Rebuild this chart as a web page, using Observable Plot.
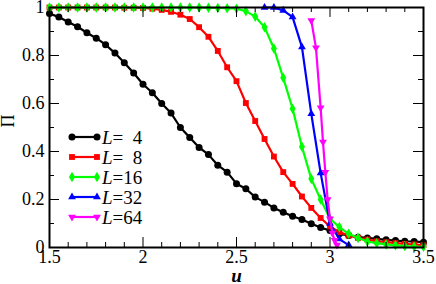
<!DOCTYPE html>
<html><head><meta charset="utf-8">
<script src="https://cdn.jsdelivr.net/npm/d3@7"></script>
<script src="https://cdn.jsdelivr.net/npm/@observablehq/plot@0.6"></script>
<style>
html,body{margin:0;padding:0;background:#fff;}
#wrap{position:relative;width:436px;height:284px;}
#legend{position:absolute;left:0;top:0;}
</style></head><body><div id="wrap"></div>
<script>
// ---- data ----
const uGrid = [1.5,1.55,1.6,1.65,1.7,1.75,1.8,1.85,1.9,1.95,2.0,2.05,2.1,2.15,2.2,2.25,2.3,2.35,2.4,2.45,2.5,2.55,2.6,2.65,2.7,2.75,2.8,2.85,2.9,2.95,3.0,3.05,3.1,3.15,3.2,3.25,3.3,3.35,3.4,3.45,3.5];
const p4  = [0.975,0.96,0.94,0.92,0.895,0.872,0.845,0.81,0.77,0.727,0.68,0.645,0.6,0.56,0.5,0.458,0.417,0.387,0.343,0.314,0.266,0.245,0.21,0.189,0.165,0.147,0.13,0.117,0.099,0.083,0.071,0.057,0.05,0.043,0.04,0.036,0.032,0.029,0.026,0.025,0.022];
const p8  = [1,1,1,1,1,1,1,1,0.999,0.999,0.998,0.995,0.99,0.982,0.97,0.952,0.918,0.878,0.819,0.751,0.693,0.602,0.527,0.452,0.379,0.314,0.265,0.2125,0.165,0.123,0.0875,0.064,0.05,0.04,0.033,0.026,0.022,0.018,0.015,0.0125,0.01];
const p16 = [1,1,1,1,1,1,1,1,1,1,1,1,1,1,1,1,1,0.999,0.998,0.997,0.995,0.985,0.962,0.918,0.829,0.707,0.578,0.42,0.286,0.2,0.12,0.085,0.057,0.04,0.025,0.018,0.013,0.009,0.006,0.004,0.003];
const u32 = [2.65,2.7,2.75,2.8,2.85,2.9,2.95,3.0,3.05,3.1];
const p32 = [1,1,0.988,0.96,0.835,0.557,0.31,0.1,0.035,0.01];
const u64 = [2.9,2.925,2.95,2.9625,2.975,2.9875,3.0,3.0125,3.025,3.0375];
const p64 = [0.946,0.832,0.582,0.44,0.314,0.2,0.12,0.06,0.03,0.01];

const sizes  = ["4","8","16","32","64"];
const labels = ["\u20074","\u20078","16","32","64"];
const colors = ["#000000","#ff0000","#00ff00","#0000ff","#ff00ff"];

const xMajor = [1.5,2,2.5,3,3.5];
const xMinor = [1.6,1.7,1.8,1.9,2.1,2.2,2.3,2.4,2.6,2.7,2.8,2.9,3.1,3.2,3.3,3.4];
const yMajor = [0,0.2,0.4,0.6,0.8,1];
const yMinor = [0.1,0.3,0.5,0.7,0.9];

// ---- build table ----
const seriesU = [uGrid,uGrid,uGrid,u32,u64];
const seriesP = [p4,p8,p16,p32,p64];
const rows = [];
sizes.forEach((L,i)=>seriesU[i].forEach((u,j)=>rows.push({L, u, p: seriesP[i][j]})));

const downTriangle = {
  draw(context, size) {
    const s = Math.sqrt(size / (Math.sqrt(3) / 4));
    const h = s * Math.sqrt(3) / 2;
    context.moveTo(-s/2, -h/3);
    context.lineTo(s/2, -h/3);
    context.lineTo(0, 2*h/3);
    context.closePath();
  }
};
const symbols = ["circle","square","diamond","triangle",downTriangle];
const radii = [3.5,3.3,3.2,2.9,2.9];

const W = 436, H = 284, mL = 49, mR = 13, mT = 7, mB = 37;
const pw = W - mL - mR, ph = H - mT - mB;
const FONT = "Liberation Serif";

const marks = [];
sizes.forEach((L,i)=>{
  const d = rows.filter(r=>r.L===L);
  marks.push(Plot.line(d,{x:"u",y:"p",stroke:colors[i],strokeWidth:2.2}));
  marks.push(Plot.dot(d,{x:"u",y:"p",symbol:symbols[i],r:radii[i],fill:colors[i],stroke:null}));
});
// inward ticks on all four sides
marks.push(
  Plot.tickX(xMajor,{x:d=>d,insetTop:ph-10,stroke:"black"}),
  Plot.tickX(xMinor,{x:d=>d,insetTop:ph-5,stroke:"black"}),
  Plot.tickX(xMajor,{x:d=>d,insetBottom:ph-10,stroke:"black"}),
  Plot.tickX(xMinor,{x:d=>d,insetBottom:ph-5,stroke:"black"}),
  Plot.tickY(yMajor,{y:d=>d,insetRight:pw-10,stroke:"black"}),
  Plot.tickY(yMinor,{y:d=>d,insetRight:pw-5,stroke:"black"}),
  Plot.tickY(yMajor,{y:d=>d,insetLeft:pw-10,stroke:"black"}),
  Plot.tickY(yMinor,{y:d=>d,insetLeft:pw-5,stroke:"black"}),
  Plot.axisX(xMajor,{tickSize:0,tickPadding:3,tickFormat:d=>String(d),label:null,fontSize:18}),
  Plot.axisY(yMajor,{tickSize:0,tickPadding:5,tickFormat:d=>String(d),label:null,fontSize:18}),
  Plot.frame({stroke:"black",strokeWidth:2}),
  Plot.text(["\u03A0"],{frameAnchor:"left",dx:-41,rotate:-90,fontSize:18}),
  Plot.text(["u"],{frameAnchor:"bottom",lineAnchor:"middle",dy:28,fontSize:19,fontWeight:"bold",fontStyle:"italic"})
);

const chart = Plot.plot({
  width: W, height: H,
  marginLeft: mL, marginRight: mR, marginTop: mT, marginBottom: mB,
  x: {domain:[1.5,3.5]},
  y: {domain:[0,1]},
  style: {fontSize:"18px", color:"black", background:"white"},
  marks
});
// force the serif face on every text element
d3.select(chart).attr("font-family", FONT).style("font-family", FONT);
d3.select(chart).selectAll("g").attr("font-family", null);
d3.select(chart).selectAll("text").attr("font-family", FONT).style("font-family", FONT);
const wrap = document.getElementById("wrap");
wrap.appendChild(chart);

// ---- legend overlay ----
const lg = d3.select(wrap).append("svg").attr("id","legend").attr("width",W).attr("height",H);
const x0 = 72, x1 = 97, tx = 102, y0 = 137, dyRow = 20;
sizes.forEach((L,i)=>{
  const y = y0 + i*dyRow;
  lg.append("line").attr("x1",x0).attr("x2",x1).attr("y1",y).attr("y2",y)
    .attr("stroke",colors[i]).attr("stroke-width",2.2);
  const symType = i===0?d3.symbolCircle:i===1?d3.symbolSquare:i===2?d3.symbolDiamond:i===3?d3.symbolTriangle:downTriangle;
  const path = d3.symbol(symType, Math.PI*radii[i]*radii[i])();
  [x0,x1].forEach(xx=>lg.append("path").attr("d",path).attr("transform",`translate(${xx},${y})`).attr("fill",colors[i]));
  const t = lg.append("text").attr("x",tx).attr("y",y).attr("dy","0.35em")
    .style("font-family",FONT).attr("font-size",19).attr("fill","black");
  t.append("tspan").attr("font-style","italic").text("L");
  t.append("tspan").text("="+labels[i]);
});
</script>
</body></html>
